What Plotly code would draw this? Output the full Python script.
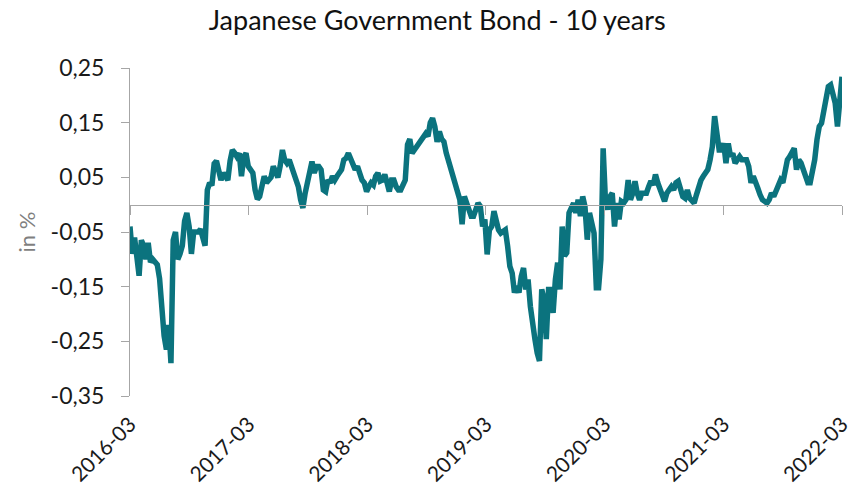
import pandas as pd
import plotly.graph_objects as go

# Weekly 10-year JGB yield (in %)
start_date = "2016-03-31"

yields_2016 = [
    -0.04, -0.09, -0.06, -0.10, -0.13, -0.065, -0.075, -0.10, -0.07, -0.105,
    -0.10, -0.105, -0.11, -0.135, -0.20, -0.24, -0.265, -0.22, -0.29, -0.065,
    -0.05, -0.10, -0.09, -0.075, -0.03, -0.015, -0.04, -0.09, -0.05, -0.05,
    -0.05, -0.045, -0.065, -0.075, 0.027, 0.04, 0.035, 0.075, 0.08, 0.058,
    0.045, 0.058, 0.05, 0.045, 0.08, 0.10, 0.095, 0.088, 0.094, 0.052,
    0.088, 0.094, 0.07, 0.064, 0.058, 0.027, 0.01,
]
yields_2017 = [
    0.015, 0.04, 0.052, 0.04, 0.045, 0.05, 0.07, 0.058, 0.05, 0.07,
    0.10, 0.082, 0.076, 0.082, 0.07, 0.058, 0.045, 0.033, 0.009, -0.006,
    0.021, 0.04, 0.07, 0.079, 0.058, 0.07, 0.07, 0.064, 0.027, 0.024,
    0.045, 0.04, 0.052, 0.045, 0.052, 0.058, 0.064, 0.082, 0.085, 0.094,
    0.082, 0.07, 0.064, 0.07, 0.052, 0.045, 0.04, 0.024, 0.033, 0.04,
    0.036, 0.052, 0.058, 0.043, 0.045, 0.055, 0.04, 0.024, 0.045, 0.045,
    0.033, 0.027, 0.027, 0.036, 0.045, 0.11, 0.12, 0.094, 0.10, 0.106,
    0.11, 0.115, 0.12, 0.13, 0.125, 0.15, 0.158, 0.143, 0.115, 0.134,
    0.12, 0.115, 0.095, 0.08, 0.07, 0.055, 0.043, 0.024, 0.009, -0.036,
]
yields_2019 = [
    0.015, 0.003, -0.009, -0.021, -0.021, -0.012, 0.003, -0.003, -0.04, -0.027,
    -0.091, -0.046, -0.04, -0.012, -0.033, -0.046, -0.052, -0.049, -0.046, -0.076,
    -0.113, -0.125, -0.161, -0.149, -0.161, -0.131, -0.116, -0.155, -0.137, -0.186,
    -0.228, -0.246, -0.271, -0.286, -0.155, -0.173, -0.246, -0.155, -0.155, -0.198,
    -0.137, -0.106, -0.155, -0.04, -0.094, -0.088, -0.015, -0.003, 0.003, -0.015,
    0.009, -0.021, 0.015, -0.003, -0.064, -0.015, -0.033, -0.052, -0.152, -0.152,
    -0.10, 0.103, 0.009, -0.009, 0.015, 0.021, -0.04, 0.003, -0.027, 0.006,
    0.003, 0.009, 0.045, 0.009, 0.021, 0.043, 0.021, 0.009,
]
yields_2020 = [
    0.021, 0.021, 0.021, 0.033, 0.043, 0.036, 0.055, 0.04, 0.027, 0.021,
    0.006, 0.021, 0.03, 0.033, 0.027, 0.04, 0.043, 0.027, 0.015, 0.012,
    0.027, 0.012, 0.006, 0.003, 0.018, 0.033, 0.045, 0.052, 0.058, 0.064,
    0.082, 0.106, 0.162, 0.13, 0.10, 0.10, 0.112, 0.076, 0.112, 0.088,
    0.094, 0.076, 0.082, 0.088, 0.082, 0.082, 0.082, 0.07, 0.04, 0.052,
    0.036, 0.03, 0.018, 0.009, 0.006, 0.003, 0.009, 0.021, 0.015, 0.027,
    0.036, 0.045, 0.04, 0.058, 0.082, 0.088, 0.094, 0.103, 0.064, 0.082,
    0.076, 0.064, 0.045, 0.04, 0.04, 0.058, 0.082, 0.119, 0.143, 0.149,
    0.173, 0.198, 0.216, 0.219, 0.198, 0.186, 0.143, 0.192, 0.234,
]

values = yields_2016 + yields_2017 + yields_2019 + yields_2020
dates = pd.date_range(start_date, periods=len(values), freq="7D")

tick_dates = ["2016-03-31", "2017-03-31", "2018-03-31", "2019-03-31",
              "2020-03-31", "2021-03-31", "2022-03-31"]
tick_labels = ["2016-03", "2017-03", "2018-03", "2019-03",
               "2020-03", "2021-03", "2022-03"]
ytick_vals = [0.25, 0.15, 0.05, -0.05, -0.15, -0.25, -0.35]
ytick_text = ["0,25", "0,15", "0,05", "-0,05", "-0,15", "-0,25", "-0,35"]

FONT = "Lato"
GREY = "#a6a6a6"
LINE = "#0b737e"
y_min, y_max = -0.35, 0.25

fig = go.Figure()
fig.add_trace(go.Scatter(x=dates, y=values, mode="lines",
                         line=dict(color=LINE, width=5.5), showlegend=False,
                         hoverinfo="skip"))
# invisible copy so the label axis (x2) is drawn
fig.add_trace(go.Scatter(x=dates, y=values, mode="lines", xaxis="x2",
                         line=dict(color="rgba(0,0,0,0)", width=0), showlegend=False,
                         hoverinfo="skip"))

fig.update_layout(
    width=854, height=493,
    margin=dict(l=130, r=12, t=68, b=97, autoexpand=False),
    paper_bgcolor="white", plot_bgcolor="white",
    font=dict(family=FONT, color="#1a1a1a"),
    title=dict(text="Japanese Government Bond - 10 years", x=0.512, xanchor="center",
               y=0.958, yanchor="middle", font=dict(size=27, family=FONT, color="#111111")),
    xaxis=dict(
        type="date", range=[tick_dates[0], tick_dates[-1]],
        anchor="free", position=(0 - y_min) / (y_max - y_min),
        showline=True, linecolor=GREY, linewidth=1,
        ticks="outside", ticklen=9, tickcolor=GREY, tickwidth=1,
        tickvals=tick_dates, showticklabels=False,
        showgrid=False, zeroline=False, automargin=False,
    ),
    xaxis2=dict(
        type="date", overlaying="x", matches="x", anchor="y", side="bottom",
        tickvals=tick_dates, ticktext=tick_labels, tickangle=-45,
        tickfont=dict(size=21, family=FONT, color="#1a1a1a"),
        ticklabelstandoff=11, automargin=False,
        showline=False, ticks="", showgrid=False, zeroline=False,
    ),
    yaxis=dict(
        range=[y_min, y_max], tickvals=ytick_vals, ticktext=ytick_text,
        tickfont=dict(size=23, family=FONT, color="#1a1a1a"),
        ticklabelstandoff=12, automargin=False,
        showline=True, linecolor=GREY, linewidth=1,
        ticks="outside", ticklen=8, tickcolor=GREY,
        showgrid=False, zeroline=False,
        title=dict(text="in %", font=dict(size=22, family=FONT, color="#7f7f7f"), standoff=8),
    ),
)

fig.write_html("out.html", config={"displayModeBar": False},
               post_script="document.body.style.margin='0px';")
